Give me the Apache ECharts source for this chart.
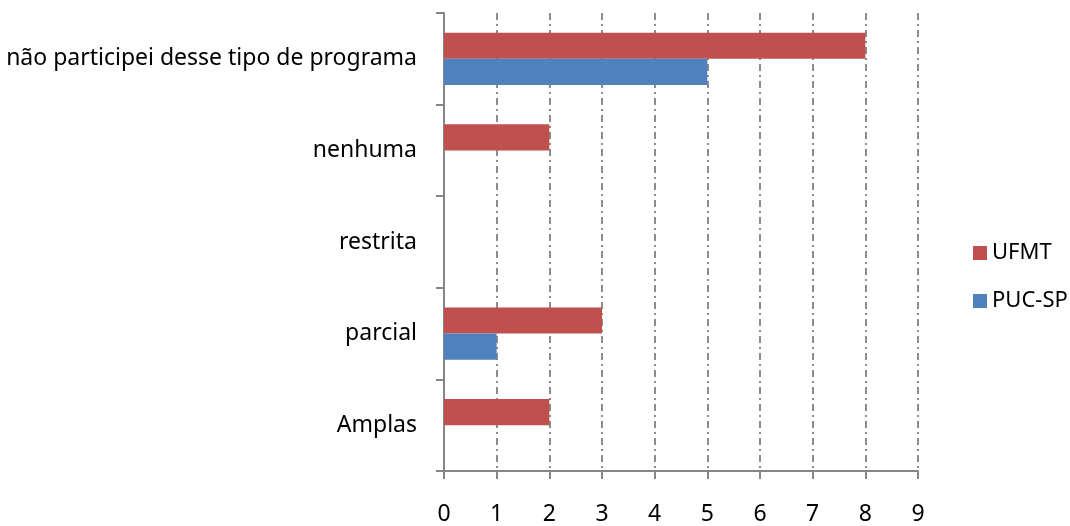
<!DOCTYPE html>
<html>
<head>
<meta charset="utf-8">
<script src="https://cdn.jsdelivr.net/npm/echarts@6/dist/echarts.min.js"></script>
<style>
html,body{margin:0;padding:0;background:#fff;}
#chart{width:1070px;height:526px;}
</style>
</head>
<body>
<div id="chart"></div>
<script>
var categories = ['Amplas', 'parcial', 'restrita', 'nenhuma', 'não participei desse tipo de programa'];
var seriesNames = ['UFMT', 'PUC-SP'];
var ufmtValues = [2, 3, 0, 2, 8];
var pucValues = [0, 1, 0, 0, 5];
var xTicks = [0, 1, 2, 3, 4, 5, 6, 7, 8, 9];

var FONT = 'Noto Sans';
var chart = echarts.init(document.getElementById('chart'), null, {renderer: 'canvas'});
chart.setOption({
  animation: false,
  backgroundColor: '#ffffff',
  legend: {
    data: seriesNames,
    orient: 'vertical',
    left: 968,
    top: 237,
    itemWidth: 14,
    itemHeight: 14,
    itemGap: 26,
    icon: 'rect',
    textStyle: {fontFamily: FONT, fontSize: 22, color: '#000', lineHeight: 22}
  },
  grid: {left: 444, right: 152, top: 13, bottom: 51, containLabel: false},
  xAxis: {
    type: 'value',
    min: xTicks[0],
    max: xTicks[xTicks.length - 1],
    interval: 1,
    axisLine: {show: true, lineStyle: {color: '#868686', width: 2}},
    axisTick: {show: true, length: 8, lineStyle: {color: '#868686', width: 2}},
    axisLabel: {margin: 32, fontFamily: FONT, fontSize: 23, color: '#000', lineHeight: 23},
    splitLine: {show: true, lineStyle: {color: '#8c8c8c', width: 2, type: [7, 4, 2, 4]}}
  },
  yAxis: {
    type: 'category',
    data: categories,
    axisLine: {show: true, lineStyle: {color: '#868686', width: 2}},
    axisTick: {show: true, length: 8, lineStyle: {color: '#868686', width: 2}},
    axisLabel: {margin: 27, fontFamily: FONT, fontSize: 23, color: '#000', padding: [5, 0, 0, 0]},
    splitLine: {show: false}
  },
  series: [
    {name: seriesNames[0], type: 'bar', data: ufmtValues, barGap: '0%', barCategoryGap: '43%',
     itemStyle: {color: '#C0504D'}},
    {name: seriesNames[1], type: 'bar', data: pucValues, barGap: '0%', barCategoryGap: '43%',
     itemStyle: {color: '#4F81BD'}}
  ]
});
</script>
</body>
</html>
